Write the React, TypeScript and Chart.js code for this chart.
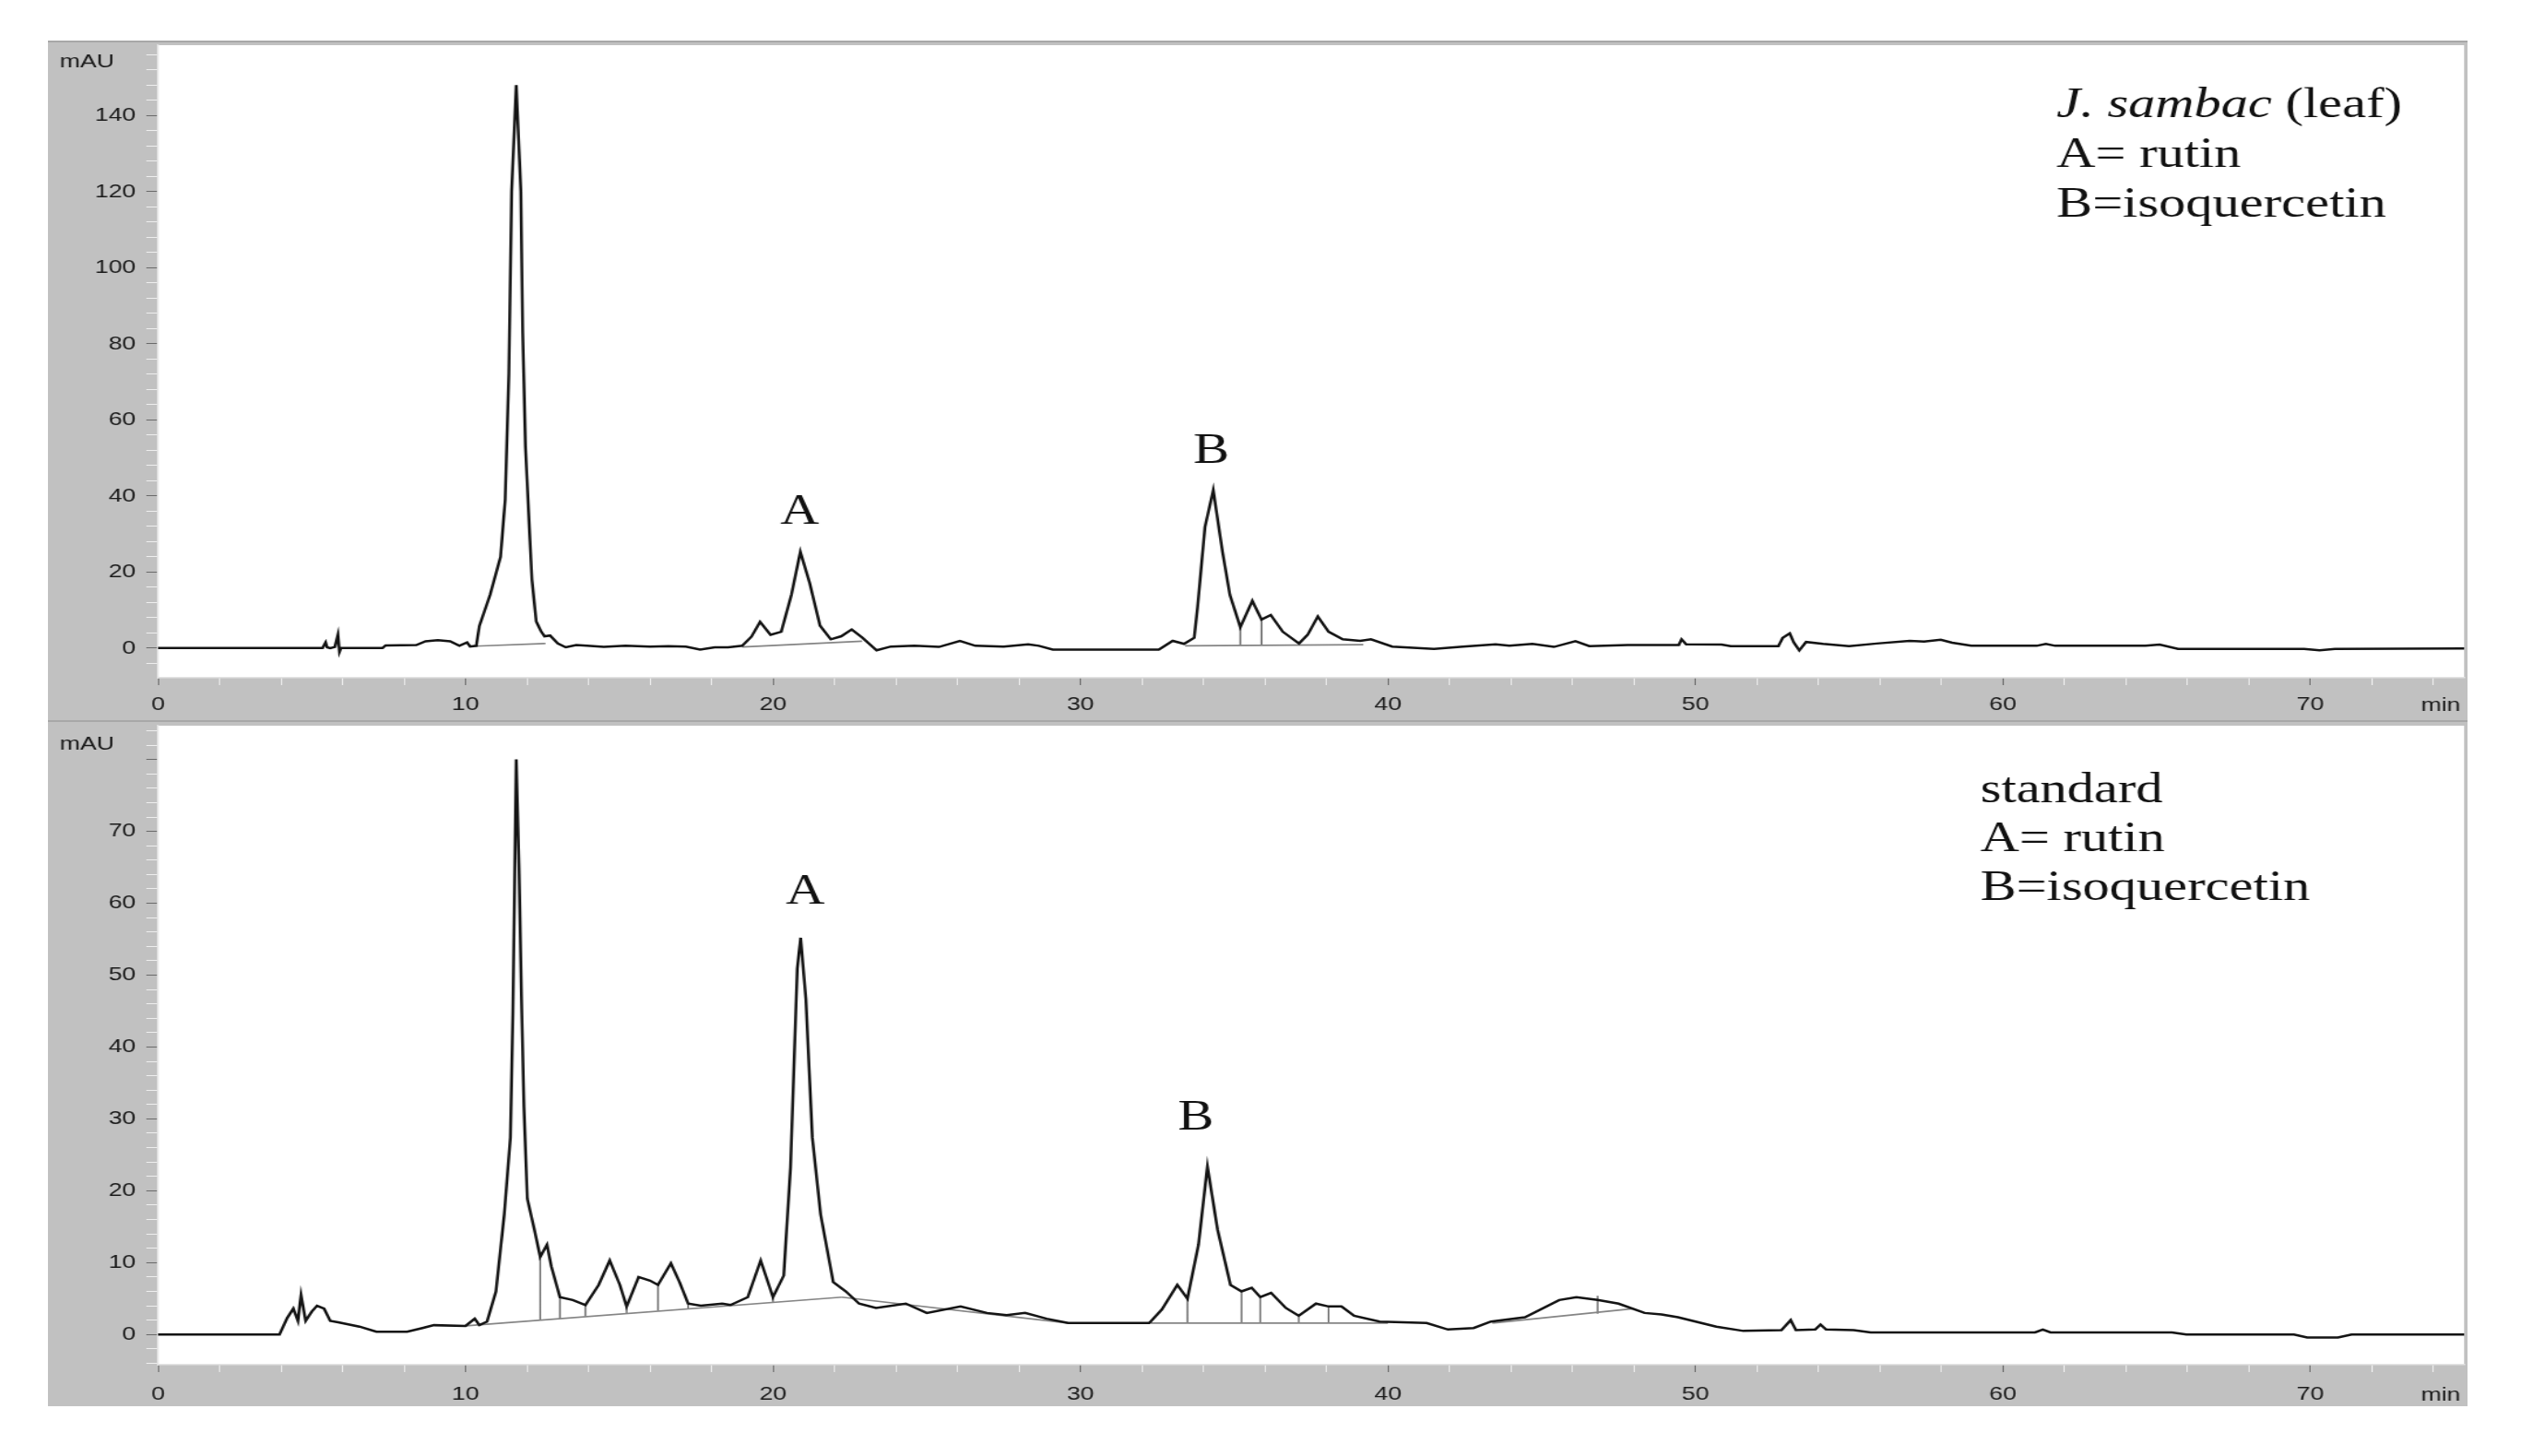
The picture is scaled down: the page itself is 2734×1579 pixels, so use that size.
import { useEffect, useRef } from "react";
import { Chart, registerables } from "chart.js";

Chart.register(...registerables);

// ---------- data: J. sambac (leaf) ----------
const timeLeaf = [
  0, 5.35, 5.45, 5.5, 5.6, 5.75, 5.85, 5.9, 5.95, 7.3, 7.4, 8.4, 8.7, 9.1, 9.5, 9.8, 10.05, 10.15, 10.35,
  10.45, 10.8, 11.14, 11.29, 11.41, 11.5, 11.65, 11.8, 11.86, 11.95, 12.05, 12.16, 12.3, 12.45, 12.57,
  12.75, 13.0, 13.26, 13.6, 13.95, 14.5, 15.2, 16.0, 16.6, 17.17, 17.63, 18.1, 18.54, 19.0, 19.3, 19.58,
  19.92, 20.27, 20.6, 20.89, 21.19, 21.53, 21.88, 22.22, 22.56, 22.91, 23.37, 23.83, 24.6, 25.4, 26.08,
  26.58, 27.5, 28.3, 28.65, 29.1, 32.55, 33.0, 33.37, 33.7, 33.81, 34.05, 34.32, 34.62, 34.86, 35.2,
  35.59, 35.89, 36.19, 36.58, 37.11, 37.39, 37.72, 38.07, 38.53, 39.1, 39.45, 40.14, 41.5, 42.44, 43.5,
  43.95, 44.7, 45.4, 46.1, 46.55, 47.8, 49.46, 49.55, 49.7, 50.85, 51.15, 52.7, 52.84, 53.07, 53.2,
  53.38, 53.6, 54.15, 55.0, 55.9, 56.97, 57.44, 57.98, 58.35, 58.97, 61.1, 61.4, 61.7, 64.64, 65.1,
  65.7, 69.8, 70.3, 70.8, 75,
];
const absLeaf = [
  0, 0, 1.5, 0.2, 0, 0.3, 3.5, -1, 0, 0, 0.7, 0.8, 1.8, 2.1, 1.8, 0.6, 1.5, 0.4, 0.6,
  5.8, 14, 24, 39, 72, 120, 148, 120, 83, 53, 36, 18, 7, 4.5, 3.1,
  3.3, 1.2, 0.2, 0.8, 0.6, 0.3, 0.6, 0.4, 0.5, 0.4, -0.4, 0.2, 0.2, 0.6, 3, 6.9,
  3.5, 4.3, 14, 25.3, 17.2, 5.9, 2.3, 3.1, 4.9, 2.7, -0.6, 0.4, 0.6, 0.3, 1.9,
  0.6, 0.4, 1.0, 0.6, -0.4, -0.4, 1.9, 1.1, 2.7, 10.8, 31.8, 41.5, 25.3, 14, 5.5,
  12.4, 7.5, 8.7, 4.3, 1.2, 3.5, 8.3, 4.3, 2.3, 1.9, 2.3, 0.4, -0.2, 0.4, 1.0,
  0.6, 1.1, 0.3, 1.8, 0.5, 0.8, 0.8, 2.3, 1.0, 0.9, 0.5, 0.5, 2.7, 3.9, 1.5,
  -0.6, 1.6, 1.1, 0.5, 1.2, 1.9, 1.7, 2.2, 1.4, 0.6, 0.6, 1.1, 0.6, 0.6, 0.9,
  -0.2, -0.2, -0.6, -0.2, -0.1,
];
const baseLeafT = [[10.3, 12.6], [19.0, 22.9], [33.4, 39.2]];
const baseLeafV = [[0.5, 1.2], [0.3, 1.8], [0.6, 0.9]];
const dropLeafT = [35.2, 35.89, 37.11];
const dropLeafTop = [5.5, 7.5, 1.2];
const dropLeafBase = [0.7, 0.7, 0.8];

// ---------- data: standard ----------
const timeStd = [
  0, 3.95, 4.2, 4.4, 4.55, 4.65, 4.8, 5.0, 5.17, 5.4, 5.6, 5.86, 6.55, 7.1, 8.1, 8.6, 8.97, 10.0, 10.3,
  10.45, 10.7, 10.99, 11.26, 11.46, 11.54, 11.65, 11.74, 11.82, 11.9, 12.01, 12.24, 12.43, 12.65, 12.79,
  13.07, 13.49, 13.9, 14.33, 14.69, 15.02, 15.24, 15.63, 16.0, 16.26, 16.68, 16.96, 17.24, 17.65, 18.35,
  18.62, 19.18, 19.6, 20.0, 20.35, 20.57, 20.79, 20.9, 21.07, 21.28, 21.55, 21.96, 22.37, 22.8, 23.35,
  24.32, 25.0, 26.1, 26.96, 27.6, 28.2, 28.9, 29.6, 32.24, 32.65, 33.15, 33.48, 33.84, 34.13, 34.46,
  34.88, 35.24, 35.57, 35.85, 36.2, 36.68, 37.1, 37.66, 38.07, 38.49, 38.9, 39.73, 41.26, 41.95, 42.79,
  43.35, 44.46, 45.57, 46.13, 46.82, 47.5, 48.35, 48.9, 49.43, 50.68, 51.56, 52.8, 53.1, 53.27, 53.9,
  54.07, 54.25, 55.15, 55.7, 61.05, 61.3, 61.55, 65.5, 65.97, 69.47, 69.9, 70.9, 71.34, 75,
];
const absStd = [
  0, 0, 2.3, 3.6, 1.9, 5.5, 1.9, 3.2, 4, 3.6, 1.9, 1.7, 1.1, 0.4, 0.4, 0.9, 1.3, 1.2, 2.2,
  1.3, 1.8, 6, 16.7, 27.4, 44.5, 80, 65, 47, 31.7, 18.9, 14.6, 10.8, 12.5, 9.5,
  5.2, 4.8, 4.1, 6.9, 10.3, 6.9, 3.9, 8, 7.5, 6.9, 9.9, 7.3, 4.3, 4.0, 4.3,
  4.1, 5.2, 10.3, 5.2, 8.2, 23.2, 50.9, 55.2, 46.7, 27.4, 16.7, 7.3, 6, 4.3, 3.7,
  4.3, 3, 3.9, 3, 2.7, 3.0, 2.2, 1.6, 1.6, 3.5, 6.9, 5, 12.5, 23.4, 14.6,
  6.9, 6, 6.5, 5.2, 5.8, 3.7, 2.6, 4.3, 3.9, 3.9, 2.6, 1.8, 1.6, 0.7, 0.9,
  1.8, 2.4, 4.8, 5.2, 4.8, 4.3, 3, 2.8, 2.4, 1.1, 0.5, 0.6, 2.0, 0.6, 0.7,
  1.4, 0.7, 0.6, 0.3, 0.3, 0.7, 0.3, 0.3, 0, 0, -0.4, -0.4, 0, 0,
];
const baseStdT = [[10.0, 22.24], [22.24, 29.6], [32.3, 40.0], [43.4, 48.0]];
const baseStdV = [[1.2, 5.2], [5.2, 1.6], [1.6, 1.6], [1.6, 3.6]];
const dropStdT = [12.43, 13.07, 13.9, 15.24, 16.26, 17.24, 20.0, 33.48, 35.24, 35.85, 37.1, 38.07, 46.82];
const dropStdTop = [10.8, 5.2, 4.1, 3.9, 6.9, 4.3, 5.2, 5, 6, 5.2, 2.6, 3.9, 5.4];
const dropStdBase = [2.0, 2.2, 2.5, 2.9, 3.3, 3.6, 4.5, 1.6, 1.6, 1.6, 1.6, 1.6, 2.9];

// ---------- ticks ----------
const xTickValues = [0, 2, 4, 6, 8, 10, 12, 14, 16, 18, 20, 22, 24, 26, 28, 30, 32, 34, 36, 38, 40, 42, 44, 46, 48, 50, 52, 54, 56, 58, 60, 62, 64, 66, 68, 70, 72, 74];
const yTicksLeaf = [-4, 0, 4, 8, 12, 16, 20, 24, 28, 32, 36, 40, 44, 48, 52, 56, 60, 64, 68, 72, 76, 80, 84, 88, 92, 96, 100, 104, 108, 112, 116, 120, 124, 128, 132, 136, 140, 144, 148, 152, 156];
const yTicksStd = [-4, -2, 0, 2, 4, 6, 8, 10, 12, 14, 16, 18, 20, 22, 24, 26, 28, 30, 32, 34, 36, 38, 40, 42, 44, 46, 48, 50, 52, 54, 56, 58, 60, 62, 64, 66, 68, 70, 72, 74, 76, 78, 80, 82, 84];

// ---------- text ----------
const legendLeaf = [
  [{ t: "J. sambac", italic: true }, { t: " (leaf)", italic: false }],
  [{ t: "A= rutin", italic: false }],
  [{ t: "B=isoquercetin", italic: false }],
];
const legendStd = [
  [{ t: "standard", italic: false }],
  [{ t: "A= rutin", italic: false }],
  [{ t: "B=isoquercetin", italic: false }],
];
const peakLabelsLeaf = [{ text: "A", x: 20.87, y: 32.7 }, { text: "B", x: 34.26, y: 48.7 }];
const peakLabelsStd = [{ text: "A", x: 21.05, y: 59.9 }, { text: "B", x: 33.75, y: 28.5 }];

const STRETCH = 1.27;
const CSS_W = 2624;
const INNER_W = Math.round(CSS_W / STRETCH);
const GRAY = "#c1c1c1";
const SANS = '"Liberation Sans", Arial, Helvetica, sans-serif';
const SERIF = '"Liberation Serif", "Times New Roman", Times, serif';

const framePlugin = {
  id: "frame",
  beforeDraw(chart: any, _args: any, opts: any) {
    const { ctx, chartArea: a, width, height } = chart;
    ctx.save();
    ctx.fillStyle = GRAY;
    ctx.fillRect(0, 0, width, height);
    ctx.fillStyle = "#ffffff";
    ctx.fillRect(a.left, a.top, a.right - a.left, a.bottom - a.top);
    ctx.fillStyle = "#a8a8a8";
    if (opts.topLine) ctx.fillRect(0, 0, width, 2);
    if (opts.bottomLine) ctx.fillRect(0, height - 2, width, 2);
    ctx.restore();
  },
  afterDraw(chart: any, _args: any, opts: any) {
    const { ctx, chartArea: a, scales } = chart;
    ctx.save();
    ctx.fillStyle = "#1a1a1a";
    ctx.font = `21px ${SANS}`;
    ctx.textBaseline = "middle";
    ctx.textAlign = "left";
    ctx.fillText("mAU", 10, opts.mauY);
    ctx.textAlign = "right";
    ctx.fillText("min", a.right - 3, opts.minY);

    // legend block
    ctx.fillStyle = "#111";
    ctx.textBaseline = "alphabetic";
    ctx.textAlign = "left";
    opts.legend.forEach((line: any[], i: number) => {
      let x = opts.legendX;
      const y = opts.legendY + i * opts.legendGap;
      line.forEach((part) => {
        ctx.font = `${part.italic ? "italic " : ""}46px ${SERIF}`;
        ctx.fillText(part.t, x, y);
        x += ctx.measureText(part.t).width;
      });
    });

    // peak labels
    ctx.font = `46px ${SERIF}`;
    ctx.textAlign = "center";
    opts.peaks.forEach((p: any) => {
      ctx.fillText(p.text, scales.x.getPixelForValue(p.x), scales.y.getPixelForValue(p.y));
    });
    ctx.restore();
  },
};

function toPoints(ts: number[], vs: number[]) {
  return ts.map((t, i) => ({ x: t, y: vs[i] }));
}

function dropPoints(ts: number[], tops: number[], bases: number[]) {
  const out: any[] = [];
  ts.forEach((t, i) => {
    out.push({ x: t, y: tops[i] });
    out.push({ x: t, y: bases[i] });
    out.push({ x: t, y: null });
  });
  return out;
}

type PanelSpec = {
  time: number[];
  abs: number[];
  baseT: number[][];
  baseV: number[][];
  dropT: number[];
  dropTop: number[];
  dropBase: number[];
  yMin: number;
  yMax: number;
  yTicks: number[];
  major: number;
  maxLabel: number;
  xAxisH: number;
  padTop: number;
  xPad: number;
  frame: any;
};

function makeConfig(p: PanelSpec): any {
  const lineCommon = { pointRadius: 0, pointHoverRadius: 0, tension: 0, fill: false, spanGaps: false };
  const datasets: any[] = [
    { ...lineCommon, data: toPoints(p.time, p.abs), borderColor: "#141414", borderWidth: 2.5 },
    ...p.baseT.map((seg, k) => ({
      ...lineCommon,
      data: toPoints(seg, p.baseV[k]),
      borderColor: "#858585",
      borderWidth: 1.7,
    })),
    { ...lineCommon, data: dropPoints(p.dropT, p.dropTop, p.dropBase), borderColor: "#4a4a4a", borderWidth: 1.2 },
  ];
  return {
    type: "line",
    data: { datasets },
    plugins: [framePlugin],
    options: {
      animation: false,
      responsive: false,
      events: [],
      layout: { padding: { left: 4, right: 3, top: p.padTop, bottom: 0 } },
      plugins: { legend: { display: false }, tooltip: { enabled: false }, frame: p.frame },
      scales: {
        x: {
          type: "linear",
          min: 0,
          max: 75,
          afterFit: (s: any) => {
            s.height = p.xAxisH;
            s.paddingLeft = 0;
            s.paddingRight = 0;
          },
          afterBuildTicks: (s: any) => {
            s.ticks = xTickValues.map((v) => ({ value: v }));
          },
          grid: {
            drawOnChartArea: false,
            drawTicks: true,
            tickLength: 8,
            tickColor: (c: any) => (c.tick && c.tick.value % 10 === 0 ? "#6a6a6a" : "#eeeeee"),
          },
          border: { display: true, color: "#e4e4e4", width: 1.5 },
          ticks: {
            autoSkip: false,
            maxRotation: 0,
            minRotation: 0,
            padding: p.xPad,
            color: "#1a1a1a",
            font: { family: SANS, size: 21 },
            callback: (v: number) => (v % 10 === 0 ? String(v) : ""),
          },
        },
        y: {
          type: "linear",
          min: p.yMin,
          max: p.yMax,
          afterFit: (s: any) => {
            s.width = 90;
            s.paddingTop = 0;
            s.paddingBottom = 0;
          },
          afterBuildTicks: (s: any) => {
            s.ticks = p.yTicks.map((v) => ({ value: v }));
          },
          grid: {
            drawOnChartArea: false,
            drawTicks: true,
            tickLength: 10,
            tickColor: (c: any) => (c.tick && c.tick.value % p.major === 0 ? "#6a6a6a" : "#eeeeee"),
          },
          border: { display: true, color: "#e4e4e4", width: 1.5 },
          ticks: {
            autoSkip: false,
            padding: 9,
            color: "#1a1a1a",
            font: { family: SANS, size: 21 },
            callback: (v: number) => (v % p.major === 0 && v >= 0 && v <= p.maxLabel ? String(v) : ""),
          },
        },
      },
    },
  };
}

const leafSpec: PanelSpec = {
  time: timeLeaf,
  abs: absLeaf,
  baseT: baseLeafT,
  baseV: baseLeafV,
  dropT: dropLeafT,
  dropTop: dropLeafTop,
  dropBase: dropLeafBase,
  yMin: -7.8,
  yMax: 158.5,
  yTicks: yTicksLeaf,
  major: 20,
  maxLabel: 140,
  xAxisH: 48,
  padTop: 5,
  xPad: 9,
  frame: {
    mauY: 23,
    minY: 721,
    legend: legendLeaf,
    legendX: 1715,
    legendY: 83,
    legendGap: 54,
    peaks: peakLabelsLeaf,
    topLine: true,
    bottomLine: true,
  },
};

const stdSpec: PanelSpec = {
  time: timeStd,
  abs: absStd,
  baseT: baseStdT,
  baseV: baseStdV,
  dropT: dropStdT,
  dropTop: dropStdTop,
  dropBase: dropStdBase,
  yMin: -4.2,
  yMax: 84.7,
  yTicks: yTicksStd,
  major: 10,
  maxLabel: 70,
  xAxisH: 45,
  padTop: 4,
  xPad: 12,
  frame: {
    mauY: 24,
    minY: 730,
    legend: legendStd,
    legendX: 1650,
    legendY: 87,
    legendGap: 53,
    peaks: peakLabelsStd,
    topLine: false,
    bottomLine: false,
  },
};

function Panel({ spec, top, height }: { spec: PanelSpec; top: number; height: number }) {
  const ref = useRef<HTMLCanvasElement | null>(null);
  useEffect(() => {
    if (!ref.current) return;
    const chart = new Chart(ref.current, makeConfig(spec));
    return () => chart.destroy();
  }, [spec]);
  return (
    <canvas
      ref={ref}
      width={INNER_W}
      height={height}
      style={{ position: "absolute", left: 52, top, width: CSS_W, height }}
    />
  );
}

export default function App() {
  return (
    <div
      style={{
        position: "absolute",
        left: 0,
        top: 0,
        width: 2734,
        height: 1579,
        background: "#ffffff",
        overflow: "hidden",
      }}
    >
      <Panel spec={leafSpec} top={44} height={739} />
      <Panel spec={stdSpec} top={783} height={742} />
    </div>
  );
}
